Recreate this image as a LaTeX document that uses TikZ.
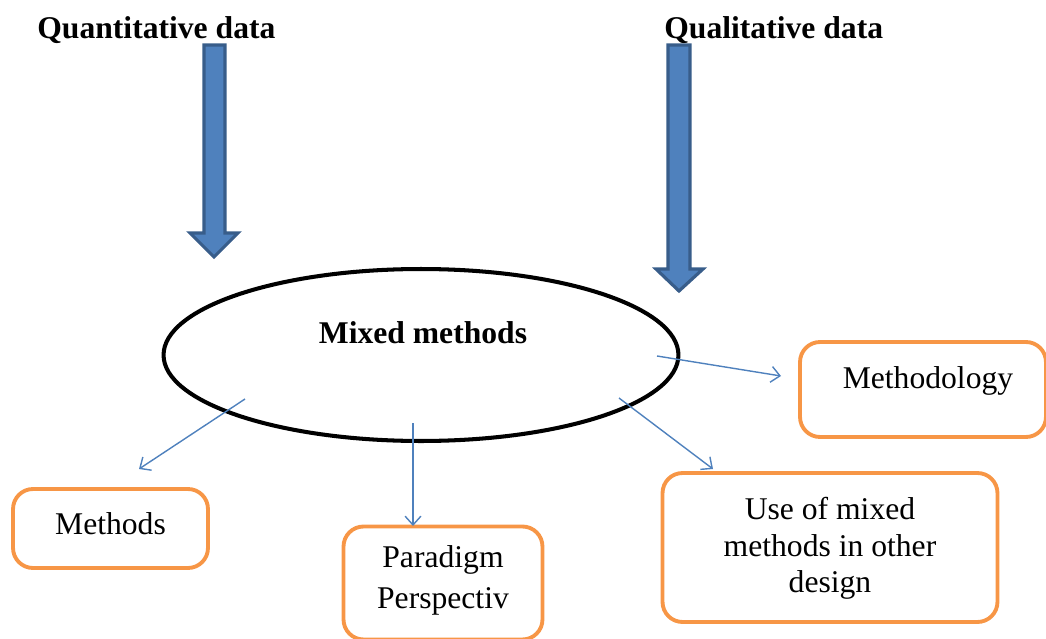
\documentclass[tikz,border=0pt]{standalone}
\usepackage{fontspec}
\setmainfont{Liberation Serif}
\usetikzlibrary{shapes.geometric,arrows.meta}
\definecolor{boxorange}{HTML}{F79646}
\definecolor{arrowblue}{HTML}{4F81BD}
\definecolor{arrowdark}{HTML}{385D8A}
\begin{document}
\begin{tikzpicture}[x=0.02cm,y=-0.02cm,
  every node/.style={font=\fontsize{18}{21}\selectfont},
  title/.style={font=\fontsize{18}{21}\selectfont\bfseries, inner sep=0pt},
  bigarrow/.style={fill=arrowblue, draw=arrowdark, line width=1.8pt, line join=miter},
  mmellipse/.style={ellipse, draw=black, line width=2.3pt, inner sep=0pt},
  outbox/.style={draw=boxorange, line width=2.2pt, rounded corners=0.4cm, align=center, inner sep=0pt},
  link/.style={draw=arrowblue, line width=0.8pt, -{Straight Barb[length=5pt,width=9pt]}}
]
\useasboundingbox (0,0) rectangle (1046,639);

% titles
\node[title, anchor=west] (quant) at (37,30) {Quantitative data};
\node[title, anchor=west] (qual) at (664,30) {Qualitative data};

% big block arrows
\draw[bigarrow] (204,45) -- (225,45) -- (225,233) -- (238,233) -- (214,257) -- (190,233) -- (204,233) -- cycle;
\draw[bigarrow] (668,45) -- (690,45) -- (690,269) -- (703,269) -- (679,291) -- (656,269) -- (668,269) -- cycle;

% central ellipse
\node[mmellipse, minimum width=10.3cm, minimum height=3.44cm] (mm) at (421,355) {};
\node[title] (mmtext) at (423,333) {Mixed methods};

% boxes
\node[outbox, minimum width=4.92cm, minimum height=1.9cm, text depth=14pt] (methodology) at (923,389.5) {\hspace*{0.2cm}Methodology};
\node[outbox, minimum width=3.9cm, minimum height=1.58cm, text depth=6pt] (methods) at (110.5,528.5) {Methods};
\node[outbox, minimum width=3.98cm, minimum height=2.26cm, text depth=7pt] (paradigm) at (443,583) {Paradigm\\[2pt]Perspectiv};
\node[outbox, minimum width=6.7cm, minimum height=2.98cm, text depth=3pt] (useof) at (830,547.5) {Use of mixed\\methods in other\\design};

% connector end points
\coordinate (s1) at (245,399);
\coordinate (e1) at (139,469);
\coordinate (s2) at (413,423);
\coordinate (e2) at (413,526);
\coordinate (s3) at (657,356);
\coordinate (e3) at (781,376);
\coordinate (s4) at (619,398);
\coordinate (e4) at (713,469);

\draw[link] (s1) -- (e1);
\draw[link] (s2) -- (e2);
\draw[link] (s3) -- (e3);
\draw[link] (s4) -- (e4);
\end{tikzpicture}
\end{document}
